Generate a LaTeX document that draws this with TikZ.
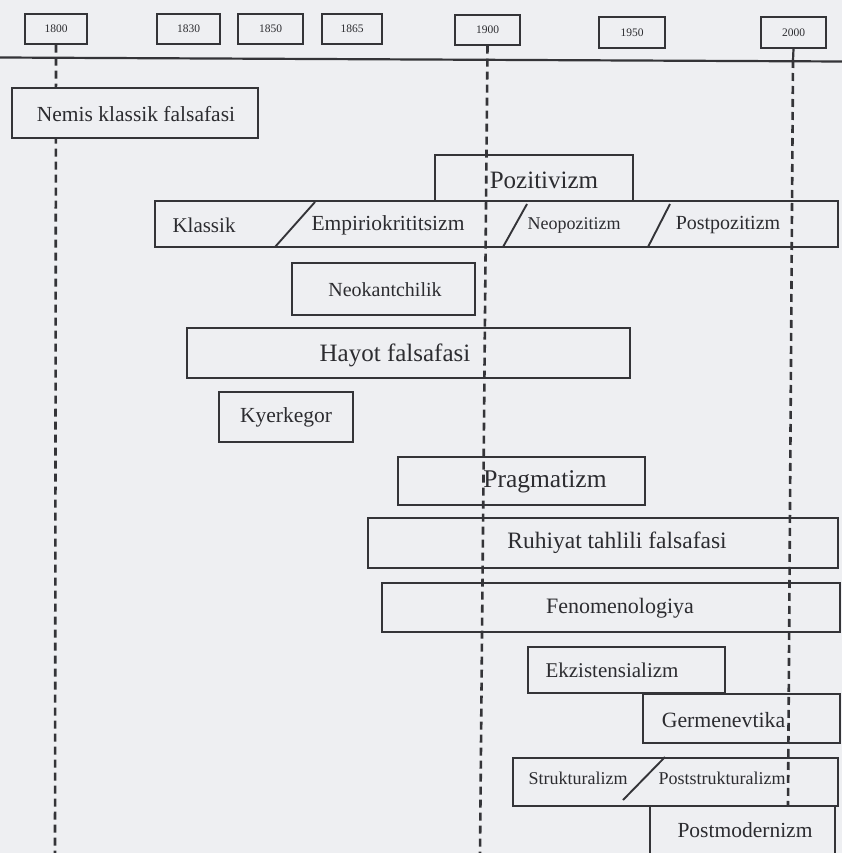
\documentclass[tikz,border=0pt]{standalone}
\usepackage{fontspec}
\setmainfont{Liberation Serif}
\definecolor{bg}{RGB}{238,239,242}
\definecolor{ink}{RGB}{44,44,48}
\definecolor{boxc}{RGB}{52,52,56}
\newcommand\setfs[1]{\fontsize{#1}{#1}\selectfont}
\tikzset{
  bx/.style={draw=boxc, line width=2.4pt, inner sep=0pt},
  ybox/.style={draw=boxc, line width=1.4pt, inner sep=0pt, text=ink, font=\setfs{11.5}},
  lbl/.style={inner sep=0pt, text=ink},
  dline/.style={draw=boxc, line width=2.6pt, dash pattern=on 8pt off 5pt},
  tline/.style={draw=boxc, line width=2.2pt},
  tickline/.style={draw=boxc, line width=2.2pt},
  slash/.style={draw=boxc, line width=1.9pt}
}
\begin{document}
\begin{tikzpicture}[x=1pt,y=-1pt]
\clip (0,0) rectangle (842,853);
\fill[bg] (0,0) rectangle (842,853);

% year boxes
\node[ybox, minimum width=62, minimum height=30] (y1800) at (56,29) {1800};
\node[ybox, minimum width=63, minimum height=30] (y1830) at (188.5,29) {1830};
\node[ybox, minimum width=65, minimum height=30] (y1850) at (270.5,29) {1850};
\node[ybox, minimum width=60, minimum height=30] (y1865) at (352,29) {1865};
\node[ybox, minimum width=65, minimum height=30] (y1900) at (487.5,30) {1900};
\node[ybox, minimum width=66, minimum height=31] (y1950) at (632,32.5) {1950};
\node[ybox, minimum width=65, minimum height=31] (y2000) at (793.5,32.5) {2000};

% time axis
\coordinate (tl0) at (0,57.5);
\coordinate (tl1) at (842,61.5);
\draw[tline] (tl0) -- (tl1);

% dashed year lines
\coordinate (e1800) at (55,853);
\coordinate (e1900) at (480,853);
\coordinate (t2000) at (793,60);
\coordinate (e2000) at (788,805);
\draw[dline] (y1800.south) -- (e1800);
\draw[dline] (y1900.south) -- (e1900);
\draw[tickline] (y2000.south) -- (t2000);
\draw[dline] (t2000) -- (e2000);

% boxes
\node[bx, fill=bg, minimum width=246, minimum height=50] (nemis) at (135,113) {};
\node[bx, minimum width=198, minimum height=46] (poz) at (534,178) {};
\node[bx, minimum width=683, minimum height=46] (row) at (496.5,224) {};
\node[bx, minimum width=183, minimum height=52] (neo) at (383.5,289) {};
\node[bx, minimum width=443, minimum height=50] (hayot) at (408.5,353) {};
\node[bx, minimum width=134, minimum height=50] (kyer) at (286,417) {};
\node[bx, minimum width=247, minimum height=48] (prag) at (521.5,481) {};
\node[bx, minimum width=470, minimum height=50] (ruh) at (603,543) {};
\node[bx, minimum width=458, minimum height=49] (fen) at (611,607.5) {};
\node[bx, minimum width=197, minimum height=46] (ekz) at (626.5,670) {};
\node[bx, minimum width=197, minimum height=49] (germ) at (741.5,718.5) {};
\node[bx, minimum width=325, minimum height=48] (struk) at (675.5,782) {};
\node[bx, fill=bg, minimum width=185, minimum height=52] (postm) at (742.5,832) {};

% labels
\node[lbl, font=\setfs{21.5}] (nemisT) at (136,114) {Nemis klassik falsafasi};
\node[lbl, font=\setfs{25}] (pozT) at (544,180) {Pozitivizm};
\node[lbl, font=\setfs{21}] (klassikT) at (204,225) {Klassik};
\node[lbl, font=\setfs{21.5}] (empT) at (388,225) {Empiriokrititsizm};
\node[lbl, font=\setfs{18}] (neopT) at (574,225) {Neopozitizm};
\node[lbl, font=\setfs{20}] (postpT) at (728,225) {Postpozitizm};
\node[lbl, font=\setfs{20}] (neoT) at (385,290) {Neokantchilik};
\node[lbl, font=\setfs{25}] (hayotT) at (395,355) {Hayot falsafasi};
\node[lbl, font=\setfs{21.5}] (kyerT) at (286,417) {Kyerkegor};
\node[lbl, font=\setfs{25.5}] (pragT) at (545,482) {Pragmatizm};
\node[lbl, font=\setfs{23.5}] (ruhT) at (617,543) {Ruhiyat tahlili falsafasi};
\node[lbl, font=\setfs{22}] (fenT) at (620,608) {Fenomenologiya};
\node[lbl, font=\setfs{21}] (ekzT) at (612,670) {Ekzistensializm};
\node[lbl, font=\setfs{21.8}] (germT) at (723.5,720) {Germenevtika};
\node[lbl, font=\setfs{18}] (strT) at (578,778) {Strukturalizm};
\node[lbl, font=\setfs{18}] (pstrT) at (722,778) {Poststrukturalizm};
\node[lbl, font=\setfs{21.5}] (postmT) at (745,830) {Postmodernizm};

% slashes
\coordinate (s1a) at (275,247); \coordinate (s1b) at (315,202);
\coordinate (s2a) at (503,247); \coordinate (s2b) at (527,204);
\coordinate (s3a) at (648,247); \coordinate (s3b) at (670,204);
\coordinate (s4a) at (623,800); \coordinate (s4b) at (665,757);
\draw[slash] (s1a) -- (s1b);
\draw[slash] (s2a) -- (s2b);
\draw[slash] (s3a) -- (s3b);
\draw[slash] (s4a) -- (s4b);
\end{tikzpicture}
\end{document}
